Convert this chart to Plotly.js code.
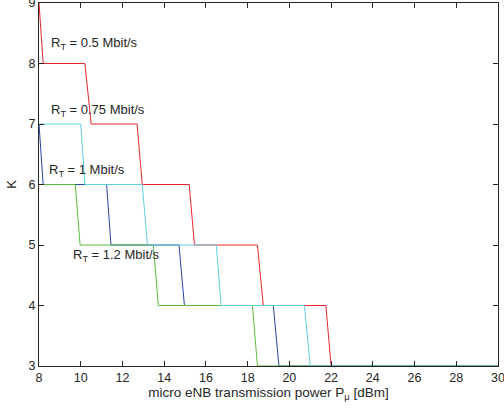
<!DOCTYPE html>
<html>
<head>
<meta charset="utf-8">
<script src="https://cdn.plot.ly/plotly-3.0.1.min.js"></script>
<style>html,body{margin:0;padding:0;background:#fff;}#chart{width:504px;height:411px;}</style>
</head>
<body>
<div id="chart"></div>
<script>
// Step curves: number of micro cells K vs micro eNB transmission power
const redX   = [8, 8.2, 10.2, 10.5, 12.7, 12.95, 15.2, 15.45, 18.47, 18.75, 21.75, 22, 30];
const redY   = [9, 8, 8, 7, 7, 6, 6, 5, 5, 4, 4, 3, 3];
const blueX  = [8, 8.2, 11.24, 11.45, 14.71, 14.97, 19.23, 19.5, 30];
const blueY  = [7, 6, 6, 5, 5, 4, 4, 3, 3];
const greenX = [8, 9.74, 9.97, 13.48, 13.72, 18.23, 18.47, 30];
const greenY = [6, 6, 5, 5, 4, 4, 3, 3];
const cyanX  = [8, 10, 10.2, 12.95, 13.2, 16.5, 16.73, 20.72, 21, 30];
const cyanY  = [7, 7, 6, 6, 5, 5, 4, 4, 3, 3];

const labels = ["R<sub>T</sub> = 0.5 Mbit/s", "R<sub>T</sub> = 0.75 Mbit/s", "R<sub>T</sub> = 1 Mbit/s", "R<sub>T</sub> = 1.2 Mbit/s"];
const labelX = [8.5, 8.5, 8.4, 9.55];
const labelY = [8.33, 7.22, 6.23, 4.82];

const mk = (x, y, c) => ({x: x, y: y, type: 'scatter', mode: 'lines', line: {color: c, width: 1}, hoverinfo: 'skip'});
const data = [
  mk(redX, redY, '#e8262c'),
  mk(blueX, blueY, '#2746a6'),
  mk(greenX, greenY, '#5cbd3c'),
  mk(cyanX, cyanY, '#62cfe0')
];

const FONT = 'Liberation Sans, Arial, sans-serif';
const ax = {
  showline: true, mirror: 'ticks', ticks: 'inside', ticklen: 5, tickcolor: '#262626',
  linecolor: '#262626', linewidth: 1, showgrid: false, zeroline: false,
  ticklabeloverflow: 'allow',
  tickfont: {family: FONT, size: 12.5, color: '#262626'}
};

const layout = {
  width: 504, height: 411,
  margin: {l: 39, r: 6, t: 3, b: 45},
  paper_bgcolor: '#fff', plot_bgcolor: '#fff',
  showlegend: false,
  xaxis: Object.assign({}, ax, {range: [8, 30], dtick: 2, tick0: 8,
    title: {text: 'micro eNB transmission power P<sub>μ</sub> [dBm]', standoff: 2,
      font: {family: FONT, size: 13.5, color: '#262626'}}}),
  yaxis: Object.assign({}, ax, {range: [3, 9], dtick: 1, tick0: 3,
    title: {text: 'K', standoff: 8,
      font: {family: FONT, size: 13, color: '#262626'}}}),
  annotations: labels.map((t, i) => ({
    x: labelX[i], y: labelY[i], xref: 'x', yref: 'y', text: t, showarrow: false,
    xanchor: 'left', yanchor: 'middle',
    font: {family: FONT, size: 13, color: '#262626'}
  }))
};

Plotly.newPlot('chart', data, layout, {displayModeBar: false, staticPlot: true});
</script>
</body>
</html>
